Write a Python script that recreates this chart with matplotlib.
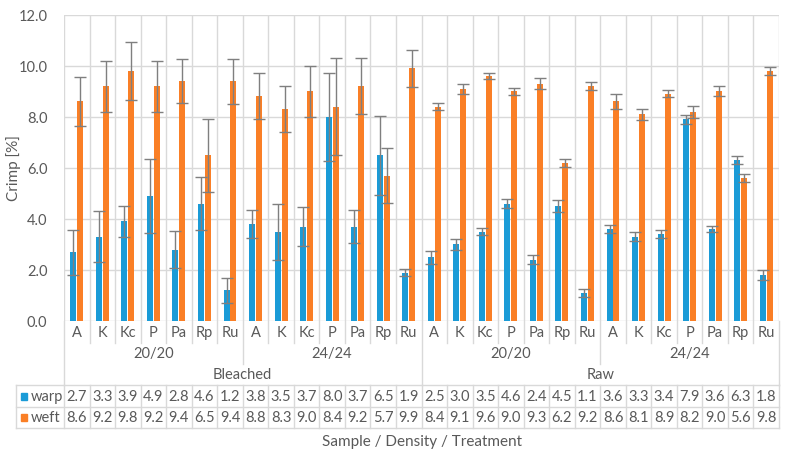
import numpy as np
import matplotlib
matplotlib.use("Agg")
import matplotlib.pyplot as plt
from matplotlib.lines import Line2D
from matplotlib.patches import Rectangle
from matplotlib.transforms import blended_transform_factory

plt.rcParams['font.family'] = ['Lato', 'DejaVu Sans']

# data
samples = ['A', 'K', 'Kc', 'P', 'Pa', 'Rp', 'Ru'] * 4
densities = ['20/20', '24/24', '20/20', '24/24']
treatments = ['Bleached', 'Raw']
warp = [2.7, 3.3, 3.9, 4.9, 2.8, 4.6, 1.2, 3.8, 3.5, 3.7, 8.0, 3.7, 6.5, 1.9,
        2.5, 3.0, 3.5, 4.6, 2.4, 4.5, 1.1, 3.6, 3.3, 3.4, 7.9, 3.6, 6.3, 1.8]
weft = [8.6, 9.2, 9.8, 9.2, 9.4, 6.5, 9.4, 8.8, 8.3, 9.0, 8.4, 9.2, 5.7, 9.9,
        8.4, 9.1, 9.6, 9.0, 9.3, 6.2, 9.2, 8.6, 8.1, 8.9, 8.2, 9.0, 5.6, 9.8]
warp_err = [0.88, 1.0, 0.6, 1.45, 0.73, 1.05, 0.5, 0.56, 1.1, 0.77, 1.73, 0.63, 1.55, 0.13,
            0.25, 0.22, 0.15, 0.18, 0.18, 0.23, 0.17, 0.15, 0.17, 0.16, 0.17, 0.12, 0.16, 0.18]
weft_err = [0.96, 1.0, 1.15, 1.0, 0.87, 1.43, 0.88, 0.9, 0.9, 1.0, 1.9, 1.1, 1.06, 0.73,
            0.14, 0.19, 0.1, 0.14, 0.22, 0.16, 0.15, 0.31, 0.21, 0.14, 0.24, 0.2, 0.16, 0.15]

blue = '#1A9BD7'
orange = '#FA7F26'
grid_c = '#D9D9D9'
txt_c = '#595959'

W, H = 788, 456
fig = plt.figure(figsize=(W / 100, H / 100), dpi=100)
left, right, top, bottom = 64, 779, 15.7, 322
ax = fig.add_axes([left / W, (H - bottom) / H, (right - left) / W, (bottom - top) / H])

n = len(samples)
x = np.arange(n)
bw = 0.235
ekw = dict(ecolor='#7F7F7F', elinewidth=1.0, capsize=4, capthick=1.0)
ax.bar(x - 0.135, warp, bw, color=blue, yerr=warp_err, error_kw=ekw, zorder=3)
ax.bar(x + 0.135, weft, bw, color=orange, yerr=weft_err, error_kw=ekw, zorder=3)

ax.set_xlim(-0.5, n - 0.5)
ax.set_ylim(0, 12)
ax.set_yticks(np.arange(0, 12.1, 2))
ax.set_yticklabels(['%.1f' % v for v in np.arange(0, 12.1, 2)])
ax.set_xticks([])
ax.tick_params(axis='y', length=0, pad=12, labelsize=10.5, labelcolor=txt_c)
for v in np.arange(0, 12.1, 2):
    ax.axhline(v, color=grid_c, lw=1, zorder=1)
for k in range(n + 1):
    ax.axvline(k - 0.5, color=grid_c, lw=1, zorder=1)
for s in ax.spines.values():
    s.set_visible(False)

# table / category area below the plot
tr = blended_transform_factory(ax.transData, fig.transFigure)
cw = (right - left) / n


def fy(py):
    return (H - py) / H


fig.text(14 / W, fy(168), 'Crimp [%]', rotation=90, ha='center', va='center',
         fontsize=11, color=txt_c)


def vline(xd, y0, y1):
    fig.add_artist(Line2D([xd, xd], [fy(y0), fy(y1)], transform=tr, color=grid_c, lw=1))


def hline(x0, x1, py):
    fig.add_artist(Line2D([x0, x1], [fy(py), fy(py)], transform=tr, color=grid_c, lw=1))


tleft = -0.5 - (left - 16) / cw
for k in range(n + 1):
    xd = k - 0.5
    if k in (0, n, 14):
        vline(xd, bottom, 386)
    elif k % 7 == 0:
        vline(xd, bottom, 365)
    else:
        vline(xd, bottom, 344)
    vline(xd, 386, 429)
vline(tleft, 386, 429)
for py in (386, 408, 429):
    hline(tleft, n - 0.5, py)

for i, s in enumerate(samples):
    fig.text(i, fy(333), s, transform=tr, ha='center', va='center', fontsize=10.5, color=txt_c)
for g, d in enumerate(densities):
    fig.text(g * 7 + 3, fy(354), d, transform=tr, ha='center', va='center', fontsize=10.5, color=txt_c)
for g, t in enumerate(treatments):
    fig.text(g * 14 + 6.5, fy(375), t, transform=tr, ha='center', va='center', fontsize=10.5, color=txt_c)

for name, vals, col, py in (('warp', warp, blue, 397), ('weft', weft, orange, 418)):
    fig.add_artist(Rectangle((21 / W, fy(py + 3.5)), 6 / W, 7 / H, transform=fig.transFigure,
                             color=col))
    fig.text(31 / W, fy(py), name, ha='left', va='center', fontsize=10.5, color=txt_c)
    for i, v in enumerate(vals):
        fig.text(i, fy(py), '%.1f' % v, transform=tr, ha='center', va='center',
                 fontsize=10.5, color=txt_c)

fig.text((left + right) / 2 / W, fy(442), 'Sample / Density / Treatment', ha='center',
         va='center', fontsize=11, color=txt_c)

fig.savefig('out.png', dpi=100)
